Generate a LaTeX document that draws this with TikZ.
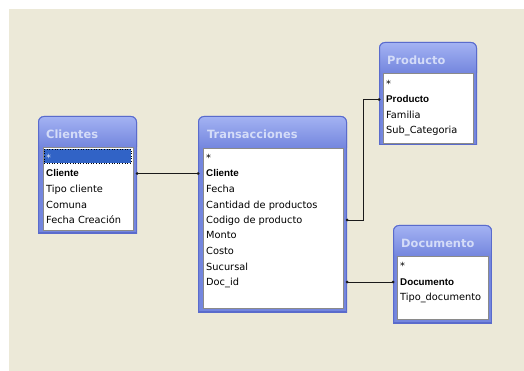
\documentclass[tikz,border=0pt]{standalone}
\usepackage{fontspec}
\setmainfont{DejaVu Sans}
\newfontfamily\boldrow{Liberation Sans}
\usetikzlibrary{calc}
\definecolor{bg}{HTML}{ECE9D8}
\definecolor{frameblue}{HTML}{7486DE}
\definecolor{frametop}{HTML}{A4B3F3}
\definecolor{frameedge}{HTML}{5A6BCC}
\definecolor{titletxt}{HTML}{D4DCF8}
\definecolor{selblue}{HTML}{3163C6}
\definecolor{listedge}{HTML}{8A8A8A}
\definecolor{linec}{HTML}{1A1A1A}
\tikzset{
  tframe/.style={rectangle, inner sep=0pt, outer sep=0pt, anchor=north west},
  ttitle/.style={anchor=west, inner sep=0pt, font=\fontsize{11.4}{13}\selectfont\bfseries, text=titletxt},
  row/.style={anchor=base west, inner sep=0pt, font=\fontsize{9.8}{11}\selectfont, text=black},
  keyrow/.style={anchor=base west, inner sep=0pt, font=\boldrow\fontsize{9.8}{11}\selectfont\bfseries, text=black},
  rel/.style={draw=linec, line width=0.9pt},
  enddot/.style={fill=linec},
}
\newcommand{\dbframe}[9]{%
  \node[tframe, minimum width={#4-#2}, minimum height={#5-#3}] (#1) at (#2,#3) {};
  \begin{scope}
    \clip (#2,#3) rectangle (#4,#5);
    \clip[rounded corners=6pt] (#2,#3) rectangle (#4,#5+12);
    \fill[frameblue] (#2,#3) rectangle (#4,#5);
    \shade[top color=frametop, bottom color=frameblue] (#2,#3) rectangle (#4,#7);
    \draw[frameedge, line width=2pt, rounded corners=6pt] (#2,#3) rectangle (#4,#5+12);
    \draw[frameedge, line width=2pt] (#2,#5) -- (#4,#5);
  \end{scope}
  \node[tframe, fill=white, draw=listedge, line width=0.8pt, minimum width={#8-#6}, minimum height={#9-#7}] (#1-list) at (#6,#7) {};
}
\begin{document}
\begin{tikzpicture}[x=1pt, y=-1pt]
  \useasboundingbox (0,0) rectangle (524,371);
  \fill[white] (0,0) rectangle (524,371);
  \fill[bg] (9,9) rectangle (524,371);

  % Clientes
  \dbframe{cli}{38}{116}{137}{233}{43}{147}{133}{230}
  \node[ttitle] (cli-t) at (46,134) {Clientes};
  \node[tframe, fill=selblue, draw=black, dotted, line width=0.6pt, minimum width=87, minimum height=14] (cli-sel) at (44,149) {};
  \node[row, text=white!85!selblue] (c1) at (46,161.5) {*};
  \node[keyrow] (c2) at (46,177) {Cliente};
  \node[row] (c3) at (46,192.5) {Tipo cliente};
  \node[row] (c4) at (46,208) {Comuna};
  \node[row] (c5) at (46,223.5) {Fecha Creación};

  % Transacciones
  \dbframe{tra}{198}{116}{347}{312}{203}{148}{343}{308}
  \node[ttitle] (tra-t) at (207,134) {Transacciones};
  \node[row] (t1) at (206,161.5) {*};
  \node[keyrow] (t2) at (206,177) {Cliente};
  \node[row] (t3) at (206,192.5) {Fecha};
  \node[row] (t4) at (206,208) {Cantidad de productos};
  \node[row] (t5) at (206,223.5) {Codigo de producto};
  \node[row] (t6) at (206,239) {Monto};
  \node[row] (t7) at (206,254.5) {Costo};
  \node[row] (t8) at (206,270) {Sucursal};
  \node[row] (t9) at (206,285.5) {Doc\_id};

  % Producto
  \dbframe{pro}{379}{42}{477}{145}{383}{73}{473}{143}
  \node[ttitle] (pro-t) at (387,60) {Producto};
  \node[row] (p1) at (386,87.5) {*};
  \node[keyrow] (p2) at (386,103) {Producto};
  \node[row] (p3) at (386,118.5) {Familia};
  \node[row] (p4) at (386,134) {Sub\_Categoria};

  % Documento
  \dbframe{doc}{393}{225}{492}{323}{397}{256}{488}{319}
  \node[ttitle] (doc-t) at (401,243) {Documento};
  \node[row] (d1) at (400,269.5) {*};
  \node[keyrow] (d2) at (400,285) {Documento};
  \node[row] (d3) at (400,300.5) {Tipo\_documento};

  % Relationships
  \coordinate (r1a) at ([yshift=3.5pt]cli.east |- c2.base);
  \coordinate (r1b) at (tra.west |- r1a);
  \coordinate (r2a) at ([yshift=3.5pt]tra.east |- t5.base);
  \coordinate (r2b) at ([yshift=3.5pt]pro.west |- p2.base);
  \coordinate (r3a) at ([yshift=3.5pt]tra.east |- t9.base);
  \coordinate (r3b) at (doc.west |- r3a);
  \draw[rel] (r1a) -- (r1b);
  \draw[rel] (r2a) -- ++(16,0) |- (r2b);
  \draw[rel] (r3a) -- (r3b);
  \foreach \p in {r1a,r1b,r2a,r2b,r3a,r3b} \fill[enddot] (\p) circle (1.5pt);
\end{tikzpicture}
\end{document}
